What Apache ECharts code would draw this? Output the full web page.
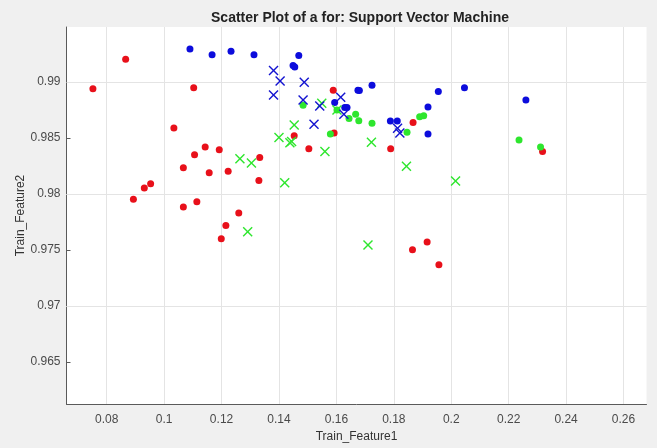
<!DOCTYPE html>
<html>
<head>
<meta charset="utf-8">
<script src="https://cdn.jsdelivr.net/npm/echarts@6/dist/echarts.min.js"></script>
<style>
html,body{margin:0;padding:0;background:#f0f0f0;}
#c{width:657px;height:448px;}
</style>
</head>
<body>
<div id="c"></div>
<script>
var titleText = 'Scatter Plot of a for: Support Vector Machine';
var xName = 'Train_Feature1';
var yName = 'Train_Feature2';
var xTicks = [0.08, 0.1, 0.12, 0.14, 0.16, 0.18, 0.2, 0.22, 0.24, 0.26];
var yTicks = [0.965, 0.97, 0.975, 0.98, 0.985, 0.99];

// red dots
var redDots = [
  [0.0866, 0.99203], [0.0752, 0.98938], [0.1103, 0.98947], [0.1034, 0.98588],
  [0.1589, 0.98926], [0.1453, 0.98520], [0.1592, 0.98544], [0.1143, 0.98418],
  [0.1192, 0.98394], [0.1106, 0.98350], [0.1504, 0.98403], [0.1333, 0.98326],
  [0.1067, 0.98233], [0.1157, 0.98189], [0.1223, 0.98203], [0.1330, 0.98121],
  [0.0953, 0.98092], [0.0931, 0.98053], [0.0893, 0.97953], [0.1067, 0.97883],
  [0.1114, 0.97930], [0.1260, 0.97830], [0.1215, 0.97718], [0.1199, 0.97600],
  [0.1867, 0.98638], [0.1789, 0.98403], [0.2318, 0.98379], [0.1916, 0.97571],
  [0.1865, 0.97501], [0.1957, 0.97369]
];
// green dots
var greenDots = [
  [0.1484, 0.98791], [0.1602, 0.98750], [0.1644, 0.98674], [0.1667, 0.98712],
  [0.1678, 0.98653], [0.1579, 0.98535], [0.1724, 0.98630], [0.1890, 0.98688],
  [0.1904, 0.98697], [0.1846, 0.98550], [0.2236, 0.98482], [0.2311, 0.98418]
];
// blue dots
var blueDots = [
  [0.1090, 0.99294], [0.1167, 0.99243], [0.1233, 0.99273], [0.1313, 0.99243],
  [0.1469, 0.99235], [0.1449, 0.99146], [0.1455, 0.99132], [0.1675, 0.98926],
  [0.1594, 0.98815], [0.1629, 0.98771], [0.1637, 0.98771], [0.1724, 0.98970],
  [0.1680, 0.98923], [0.1955, 0.98914], [0.2046, 0.98947], [0.2260, 0.98838],
  [0.1919, 0.98776], [0.1788, 0.98650], [0.1812, 0.98650], [0.1919, 0.98535]
];
// green crosses
var greenCross = [
  [0.1549, 0.98809], [0.1453, 0.98615], [0.1400, 0.98503], [0.1438, 0.98456],
  [0.1444, 0.98467], [0.1560, 0.98379], [0.1264, 0.98315], [0.1304, 0.98277],
  [0.1420, 0.98100], [0.1291, 0.97662], [0.1722, 0.98462], [0.1844, 0.98247],
  [0.2015, 0.98115], [0.1710, 0.97545], [0.1602, 0.98750]
];
// blue crosses
var blueCross = [
  [0.1381, 0.99102], [0.1404, 0.99009], [0.1488, 0.98996], [0.1381, 0.98882],
  [0.1484, 0.98838], [0.1542, 0.98785], [0.1615, 0.98864], [0.1626, 0.98712],
  [0.1522, 0.98623], [0.1813, 0.98586], [0.1821, 0.98544]
];

var crossPath = 'path://M1,0L5,4L9,0L10,1L6,5L10,9L9,10L5,6L1,10L0,9L4,5L0,1Z';

var gridLines = [];
xTicks.forEach(function (v) { gridLines.push({xAxis: v}); });
yTicks.forEach(function (v) { gridLines.push({yAxis: v}); });

var chart = echarts.init(document.getElementById('c'), null, {renderer: 'canvas'});
var labelStyle = {color: '#4a4a4a', fontFamily: 'Liberation Sans', fontSize: 12};
chart.setOption({
  backgroundColor: '#f0f0f0',
  animation: false,
  title: {
    text: titleText, left: 355, top: 6, textAlign: 'center',
    textStyle: {fontFamily: 'Liberation Sans', fontSize: 14, fontWeight: 'bold', color: '#222'}
  },
  grid: {left: 66.5, right: 10.5, top: 27, bottom: 39.7, show: true, backgroundColor: '#ffffff', borderWidth: 0},
  xAxis: {
    type: 'value', min: 0.066, max: 0.268,
    name: xName, nameLocation: 'middle', nameGap: 27,
    nameTextStyle: {color: '#333', fontFamily: 'Liberation Sans', fontSize: 12},
    axisLine: {show: true, onZero: false, lineStyle: {color: '#5a5a5a', width: 1}},
    axisTick: {show: true, inside: true, length: 4, customValues: xTicks, lineStyle: {color: '#5a5a5a'}},
    splitLine: {show: false},
    axisLabel: Object.assign({margin: 10, customValues: xTicks,
      formatter: function (v) { return String(+v.toFixed(4)); }}, labelStyle)
  },
  yAxis: {
    type: 'value', min: 0.96125, max: 0.9949,
    name: yName, nameLocation: 'middle', nameGap: 40, nameMoveOverlap: false,
    nameTextStyle: {color: '#333', fontFamily: 'Liberation Sans', fontSize: 12},
    axisLine: {show: true, onZero: false, lineStyle: {color: '#5a5a5a', width: 1}},
    axisTick: {show: true, inside: true, length: 4, customValues: yTicks, lineStyle: {color: '#5a5a5a'}},
    splitLine: {show: false},
    axisLabel: Object.assign({margin: 6, customValues: yTicks,
      formatter: function (v) { return String(+v.toFixed(4)); }}, labelStyle)
  },
  series: [
    {type: 'scatter', data: [], silent: true, z: 1,
      markLine: {silent: true, z: 1, symbol: 'none', animation: false, label: {show: false},
        lineStyle: {color: '#e4e4e4', type: 'solid', width: 1}, emphasis: {disabled: true},
        data: gridLines}},
    {type: 'scatter', z: 3, data: redDots, symbol: 'circle', symbolSize: 7, itemStyle: {color: '#e8101a', opacity: 1}},
    {type: 'scatter', z: 3, data: greenDots, symbol: 'circle', symbolSize: 7, itemStyle: {color: '#2ee62e', opacity: 1}},
    {type: 'scatter', z: 3, data: blueDots, symbol: 'circle', symbolSize: 7, itemStyle: {color: '#0c0cdc', opacity: 1}},
    {type: 'scatter', z: 3, data: greenCross, symbol: crossPath, symbolSize: 10, itemStyle: {color: '#2ee62e', opacity: 1}},
    {type: 'scatter', z: 3, data: blueCross, symbol: crossPath, symbolSize: 10, itemStyle: {color: '#1414d0', opacity: 1}}
  ]
});
</script>
</body>
</html>
